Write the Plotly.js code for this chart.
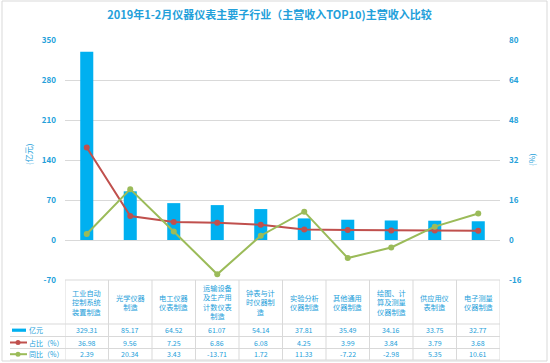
<!DOCTYPE html>
<html>
<head>
<meta charset="utf-8">
<script src="https://cdn.plot.ly/plotly-3.0.1.min.js"></script>
<style>html,body{margin:0;padding:0;background:#fff;}#chart{width:550px;height:363px;}</style>
</head>
<body>
<div id="chart"></div>
<script>
var categories = ['工业自动<br>控制系统<br>装置制造','光学仪器<br>制造','电工仪器<br>仪表制造','运输设备<br>及生产用<br>计数仪表<br>制造','钟表与计<br>时仪器制<br>造','实验分析<br>仪器制造','其他通用<br>仪器制造','绘图、计<br>算及测量<br>仪器制造','供应用仪<br>表制造','电子测量<br>仪器制造'];
var revenue = [329.31, 85.17, 64.52, 61.07, 54.14, 37.81, 35.49, 34.16, 33.75, 32.77];
var share = [36.98, 9.56, 7.25, 6.86, 6.08, 4.25, 3.99, 3.84, 3.79, 3.68];
var yoy = [2.39, 20.34, 3.43, -13.71, 1.72, 11.33, -7.22, -2.98, 5.35, 10.61];
var rowLabels = ['亿元', '占比（%）', '同比（%）'];
var leftTicks = [-70, 0, 70, 140, 210, 280, 350];
var rightTicks = [-16, 0, 16, 32, 48, 64, 80];

var BLUE = '#00B0F0', RED = '#C0504D', GREEN = '#9BBB59';
var TXT = '#23A0DA', GRID = '#D9D9D9';
var FONT = 'Noto Sans CJK SC, Noto Sans, sans-serif';
var idx = categories.map(function(_, i){ return i; });

// pixel helpers (plot area: x 65..500, y 40..280)
function px(X){ return (X - 65) / 435; }
function py(Y){ return (280 - Y) / 240; }

var traces = [
  {type:'bar', x: idx, y: revenue, width: 0.3, marker:{color: BLUE}, yaxis:'y', hoverinfo:'skip'},
  {type:'scatter', mode:'lines+markers', x: idx, y: share, yaxis:'y2', line:{color: RED, width: 2}, marker:{color: RED, size: 6}, hoverinfo:'skip'},
  {type:'scatter', mode:'lines+markers', x: idx, y: yoy, yaxis:'y2', line:{color: GREEN, width: 2}, marker:{color: GREEN, size: 6}, hoverinfo:'skip'}
];

var shapes = [];
var annotations = [];
// outer chart border
shapes.push({type:'rect', xref:'paper', yref:'paper', x0: px(2), x1: px(547), y0: py(1), y1: py(361), line:{color: GRID, width: 1}, layer:'below'});
// table horizontal lines
shapes.push({type:'line', xref:'paper', yref:'paper', x0: px(65), x1: px(500), y0: py(280), y1: py(280), line:{color: GRID, width: 1}});
[324, 336.5, 348.5, 360].forEach(function(Y){
  shapes.push({type:'line', xref:'paper', yref:'paper', x0: px(10), x1: px(500), y0: py(Y), y1: py(Y), line:{color: GRID, width: 1}});
});
// table vertical lines
for (var i = 0; i <= categories.length; i++) {
  shapes.push({type:'line', xref:'x', yref:'paper', x0: i - 0.5, x1: i - 0.5, y0: py(280), y1: py(360), line:{color: GRID, width: 1}});
}
// category labels and values
var rowY = [330.2, 342.5, 354.2];
var rowData = [revenue, share, yoy];
categories.forEach(function(c, i){
  annotations.push({xref:'x', yref:'paper', x: i, y: py(302), text: c, showarrow:false, xanchor:'center', yanchor:'middle', font:{family: FONT, size: 7.2, color: TXT}});
  rowData.forEach(function(arr, r){
    annotations.push({xref:'x', yref:'paper', x: i, y: py(rowY[r]), text: arr[i].toFixed(2), showarrow:false, xanchor:'center', yanchor:'middle', font:{family: FONT, size: 7, color: TXT}});
  });
});
// row labels & legend keys
rowLabels.forEach(function(t, r){
  annotations.push({xref:'paper', yref:'paper', x: px(27), y: py(rowY[r]), text: t, showarrow:false, xanchor:'left', yanchor:'middle', font:{family: FONT, size: 7, color: TXT}});
});
shapes.push({type:'rect', xref:'paper', yref:'paper', x0: px(12), x1: px(26), y0: py(rowY[0] - 1.6), y1: py(rowY[0] + 1.6), fillcolor: BLUE, line:{width:0}});
[[RED, rowY[1]], [GREEN, rowY[2]]].forEach(function(k){
  shapes.push({type:'line', xref:'paper', yref:'paper', x0: px(10), x1: px(27), y0: py(k[1]), y1: py(k[1]), line:{color: k[0], width: 2}});
  shapes.push({type:'circle', xref:'paper', yref:'paper', x0: px(15.5), x1: px(20.5), y0: py(k[1] - 2.5), y1: py(k[1] + 2.5), fillcolor: k[0], line:{width:0}});
});
// axis titles
annotations.push({xref:'paper', yref:'paper', x: px(28), y: py(155), text:'(亿元)', textangle:-90, showarrow:false, xanchor:'center', yanchor:'middle', font:{family: FONT, size: 8, color: TXT}});
annotations.push({xref:'paper', yref:'paper', x: px(531), y: py(160), text:'(%)', textangle:-90, showarrow:false, xanchor:'center', yanchor:'middle', font:{family: FONT, size: 8, color: TXT}});

var layout = {
  width: 550, height: 363,
  margin: {l: 65, r: 50, t: 40, b: 83},
  paper_bgcolor: '#fff', plot_bgcolor: '#fff',
  showlegend: false,
  title: {text: '2019年1-2月仪器仪表主要子行业（主营收入TOP10)主营收入比较', x: 0.49, xref:'container', y: 0.958, yref:'container', yanchor:'middle', font:{family: FONT, size: 11, color: TXT, weight: 'bold'}},
  xaxis: {range: [-0.5, 9.5], showticklabels: false, showgrid: false, zeroline: false, showline: false, fixedrange: true},
  yaxis: {range: [-70, 350], tickvals: leftTicks, ticktext: leftTicks.map(String), showgrid: true, gridcolor: GRID, gridwidth: 1, zeroline: true, zerolinecolor: GRID, zerolinewidth: 1, showline: false, ticks: '', ticklabelstandoff: 8, tickfont:{family: FONT, size: 8, color: TXT, weight:'bold'}},
  yaxis2: {range: [-16, 80], tickvals: rightTicks, ticktext: rightTicks.map(String), overlaying: 'y', side: 'right', showgrid: false, zeroline: false, showline: false, ticks: '', ticklabelstandoff: 8, tickfont:{family: FONT, size: 8, color: TXT, weight:'bold'}},
  shapes: shapes,
  annotations: annotations,
  bargap: 0.7
};
Plotly.newPlot('chart', traces, layout, {staticPlot: true, displayModeBar: false});
</script>
</body>
</html>
